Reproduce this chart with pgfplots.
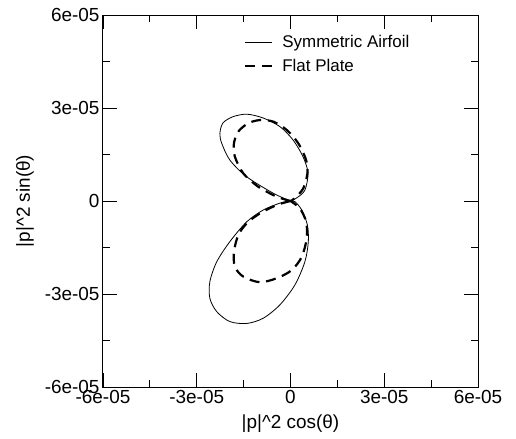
\documentclass[border=0pt]{standalone}
\usepackage{fontspec}
\setmainfont{Liberation Sans}
\usepackage{pgfplots}
\pgfplotsset{compat=1.18}
\begin{document}
\begin{tikzpicture}
\useasboundingbox (-103bp,-52bp) rectangle (413bp,387bp);
\begin{axis}[at={(0,0)},anchor=south west,scale only axis,
  width=375bp,height=372bp,
  xmin=-6,xmax=6,ymin=-6,ymax=6,
  xtick={-6,-3,0,3,6},xticklabels={-6e-05,-3e-05,0,3e-05,6e-05},
  ytick={-6,-3,0,3,6},yticklabels={-6e-05,-3e-05,0,3e-05,6e-05},
  minor tick num=1,major tick length=14bp,minor tick length=7bp,
  tick style={black,line width=0.8bp},
  axis line style={line width=1bp},
  tick label style={font=\fontsize{19}{22}\selectfont},
  label style={font=\fontsize{19}{22}\selectfont},
  xlabel={|p|\textasciicircum 2 cos(θ)},
  ylabel={|p|\textasciicircum 2 sin(θ)},
  x label style={at={(axis description cs:0.5,-0.0995)},anchor=center},
  y label style={at={(axis description cs:-0.208,0.5)},anchor=center},
  legend cell align=left,
  legend image code/.code={\draw[#1] plot coordinates {(0bp,0bp) (27bp,0bp)};
    \path (34bp,0bp);},
  legend style={at={(axis description cs:0.368,0.957)},anchor=north west,
    draw=none,fill=none,font=\fontsize{17}{20}\selectfont,row sep=6bp},
]
% symmetric airfoil, upper and lower lobes (units of 1e-05)
\addplot[black,line width=0.8bp,smooth] coordinates {
(0,0) (-0.55,0.25) (-1.40,0.78) (-1.94,1.32) (-2.20,1.86) (-2.26,2.18)
(-2.16,2.52) (-1.84,2.72) (-1.40,2.80) (-0.88,2.68) (-0.34,2.40) (0.08,1.97)
(0.40,1.43) (0.56,0.90) (0.46,0.35) (0.20,0.10) (0,0)};
\addlegendentry{Symmetric Airfoil}
\addplot[black,line width=2.2bp,dash pattern=on 10bp off 6.7bp,smooth] coordinates {
(0,0) (-0.44,0.14) (-1.03,0.46) (-1.51,0.89) (-1.78,1.43) (-1.81,1.86)
(-1.67,2.24) (-1.35,2.51) (-0.98,2.61) (-0.55,2.56) (-0.12,2.29) (0.25,1.86)
(0.50,1.32) (0.54,0.89) (0.41,0.41) (0.14,0.09) (0,0)};
\addlegendentry{Flat Plate}
\addplot[black,line width=0.8bp,smooth,forget plot] coordinates {
(0,0) (-0.34,-0.07) (-0.87,-0.29) (-1.40,-0.67) (-1.94,-1.31) (-2.36,-1.96)
(-2.58,-2.60) (-2.58,-3.14) (-2.36,-3.57) (-1.94,-3.89) (-1.40,-3.95)
(-0.87,-3.78) (-0.34,-3.35) (0.14,-2.71) (0.46,-1.96) (0.57,-1.31)
(0.54,-0.77) (0.36,-0.29) (0.14,-0.02) (0,0)};
\addplot[black,line width=2.2bp,dash pattern=on 10bp off 6.7bp,smooth,forget plot] coordinates {
(0,0) (-0.44,-0.13) (-0.98,-0.40) (-1.40,-0.72) (-1.67,-1.10) (-1.81,-1.64)
(-1.78,-2.12) (-1.51,-2.44) (-0.98,-2.62) (-0.44,-2.49) (0.04,-2.23)
(0.36,-1.80) (0.52,-1.20) (0.50,-0.67) (0.30,-0.24) (0,0)};
\end{axis}
\end{tikzpicture}
\end{document}
